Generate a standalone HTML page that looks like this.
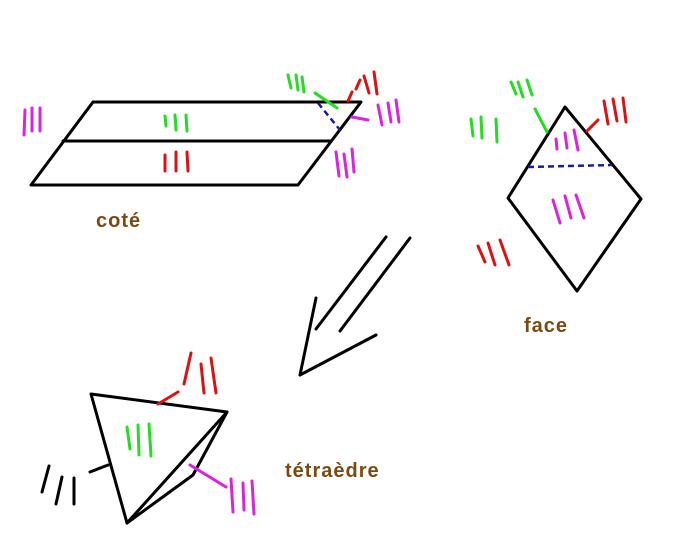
<!DOCTYPE html>
<html><head><style>
html,body{margin:0;padding:0;background:#fff;}
svg{display:block}
text{font-family:"Liberation Sans",sans-serif;font-weight:bold;fill:#7b4a12;font-size:20px;letter-spacing:1px}
</style></head><body>
<svg width="681" height="556" viewBox="0 0 681 556" xmlns="http://www.w3.org/2000/svg">
<g stroke="#000" stroke-width="3" fill="none" stroke-linecap="round" stroke-linejoin="round">
<polygon points="93,102 361,102 298,185 31,185"/>
<line x1="63" y1="141" x2="331" y2="141"/>
<polygon points="565,107 641,199 577,291 508,198"/>
<line x1="386" y1="237" x2="316" y2="329"/>
<line x1="410" y1="238" x2="340" y2="331"/>
<line x1="316" y1="298" x2="300" y2="375"/>
<line x1="300" y1="375" x2="376" y2="335"/>
<polyline points="91,394 227,412 127,523 91,394"/>
<polyline points="227,412 193,475 127,523"/>
<line x1="90" y1="472" x2="108" y2="465"/>
<line x1="42" y1="492" x2="49" y2="466"/><line x1="56" y1="504" x2="62" y2="477"/><line x1="74" y1="504" x2="74" y2="478"/>
</g>
<g stroke="#1a1aa0" stroke-width="2.5" stroke-dasharray="6,4" fill="none">
<line x1="318" y1="103" x2="340" y2="130"/>
<line x1="528" y1="167" x2="612" y2="165"/>
</g>
<g stroke="#22dd22" stroke-width="3" stroke-linecap="round">
<line x1="315" y1="93" x2="337" y2="108"/><line x1="535" y1="109" x2="547" y2="132"/>
<line x1="288" y1="75" x2="291" y2="88"/><line x1="296" y1="75" x2="298" y2="90"/><line x1="302" y1="77" x2="304" y2="92"/>
<line x1="165" y1="116" x2="166" y2="126"/><line x1="175" y1="115" x2="176" y2="130"/><line x1="186" y1="115" x2="187" y2="131"/>
<line x1="511" y1="82" x2="516" y2="94"/><line x1="518" y1="82" x2="523" y2="97"/><line x1="527" y1="80" x2="532" y2="95"/>
<line x1="471" y1="119" x2="473" y2="136"/><line x1="481" y1="117" x2="482" y2="138"/><line x1="496" y1="119" x2="497" y2="142"/>
<line x1="127" y1="427" x2="130" y2="449"/><line x1="138" y1="425" x2="139" y2="455"/><line x1="149" y1="424" x2="151" y2="456"/>
</g>
<g stroke="#dd1111" stroke-width="3" stroke-linecap="round">
<line x1="348" y1="101" x2="352" y2="92"/><line x1="587" y1="131" x2="598" y2="120"/><line x1="158" y1="404" x2="178" y2="392"/>
<line x1="356" y1="89" x2="360" y2="80"/><line x1="364" y1="76" x2="369" y2="93"/><line x1="374" y1="72" x2="377" y2="94"/>
<line x1="165" y1="155" x2="165" y2="171"/><line x1="176" y1="152" x2="176" y2="171"/><line x1="187" y1="152" x2="188" y2="171"/>
<line x1="604" y1="101" x2="608" y2="124"/><line x1="613" y1="99" x2="617" y2="121"/><line x1="623" y1="98" x2="626" y2="122"/>
<line x1="478" y1="246" x2="485" y2="262"/><line x1="488" y1="243" x2="495" y2="265"/><line x1="500" y1="240" x2="509" y2="265"/>
<line x1="184" y1="384" x2="191" y2="353"/><line x1="201" y1="364" x2="204" y2="393"/><line x1="211" y1="358" x2="216" y2="393"/>
</g>
<g stroke="#dd22dd" stroke-width="3" stroke-linecap="round">
<line x1="352" y1="117" x2="368" y2="120"/><line x1="190" y1="465" x2="226" y2="487"/>
<line x1="25" y1="110" x2="24" y2="135"/><line x1="32" y1="108" x2="32" y2="131"/><line x1="40" y1="108" x2="40" y2="131"/>
<line x1="378" y1="105" x2="382" y2="125"/><line x1="388" y1="103" x2="391" y2="122"/><line x1="396" y1="100" x2="399" y2="122"/>
<line x1="336" y1="152" x2="339" y2="176"/><line x1="344" y1="154" x2="347" y2="177"/><line x1="352" y1="149" x2="354" y2="172"/>
<line x1="556" y1="139" x2="557" y2="149"/><line x1="565" y1="133" x2="567" y2="148"/><line x1="574" y1="130" x2="578" y2="150"/>
<line x1="553" y1="200" x2="560" y2="223"/><line x1="565" y1="196" x2="571" y2="218"/><line x1="576" y1="195" x2="584" y2="218"/>
<line x1="231" y1="479" x2="233" y2="512"/><line x1="243" y1="483" x2="244" y2="510"/><line x1="252" y1="481" x2="254" y2="514"/>
</g>
<text x="96" y="227">coté</text>
<text x="524" y="332">face</text>
<text x="285" y="477">tétraèdre</text>
</svg>
</body></html>
